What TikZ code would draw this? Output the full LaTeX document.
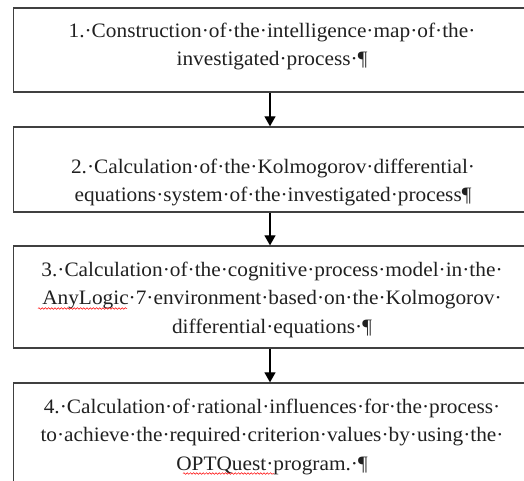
\documentclass[tikz,border=0pt]{standalone}
\usepackage{fontspec}
\setmainfont{Liberation Serif}[Ligatures={NoCommon}, FakeStretch=1.04]
\usetikzlibrary{arrows.meta,decorations.pathmorphing}
\definecolor{frame}{HTML}{404040}
\definecolor{ink}{HTML}{202020}
\tikzset{
  stepbox/.style={draw=frame, line width=1.3pt, rectangle, inner sep=0pt, minimum width=513pt},
  steptext/.style={text=ink, align=center, inner sep=0pt, anchor=north,
    font=\fontsize{20.5}{28.5}\selectfont},
  flow/.style={draw=black, line width=1.2pt, -{Triangle[length=10pt,width=11pt]}},
  spell/.style={draw=red, line width=0.5pt, decorate,
    decoration={snake, amplitude=0.8pt, segment length=3.2pt}}
}
\newcommand{\firstline}{\rule{0pt}{15pt}}
\begin{document}
\begin{tikzpicture}[x=1pt,y=-1pt]
\useasboundingbox (0,0) rectangle (524,481);
\begin{scope}
\clip (0,0) rectangle (524,481);
% frames of the four steps
\node[stepbox, minimum height=84pt]  (b1) at (270,50)    {};
\node[stepbox, minimum height=85pt]  (b2) at (270,169.5) {};
\node[stepbox, minimum height=102pt] (b3) at (270,297)   {};
\node[stepbox, minimum height=117pt] (b4) at (270,441.5) {};
\end{scope}
% step descriptions
\node[steptext] (t1) at (272,22) {\firstline 1.·Construction·of·the·intelligence·map·of·the·\\investigated·process·¶};
\node[steptext] (t2) at (273,158) {\firstline 2.·Calculation·of·the·Kolmogorov·differential·\\equations·system·of·the·investigated·process¶};
\node[steptext] (t3) at (272,261) {\firstline 3.·Calculation·of·the·cognitive·process·model·in·the·\\AnyLogic·7·environment·based·on·the·Kolmogorov·\\differential·equations·¶};
\node[steptext] (t4) at (272,398) {\firstline 4.·Calculation·of·rational·influences·for·the·process·\\to·achieve·the·required·criterion·values·by·using·the·\\OPTQuest·program.·¶};
% spelling marks
\coordinate (w1a) at (38,308.5);  \coordinate (w1b) at (127,308.5);
\coordinate (w2a) at (183,473.5); \coordinate (w2b) at (274,473.5);
\draw[spell] (w1a) -- (w1b);
\draw[spell] (w2a) -- (w2b);
% flow between steps
\draw[flow] (b1.south) -- (b2.north);
\draw[flow] (b2.south) -- (b3.north);
\draw[flow] (b3.south) -- (b4.north);
\end{tikzpicture}
\end{document}
